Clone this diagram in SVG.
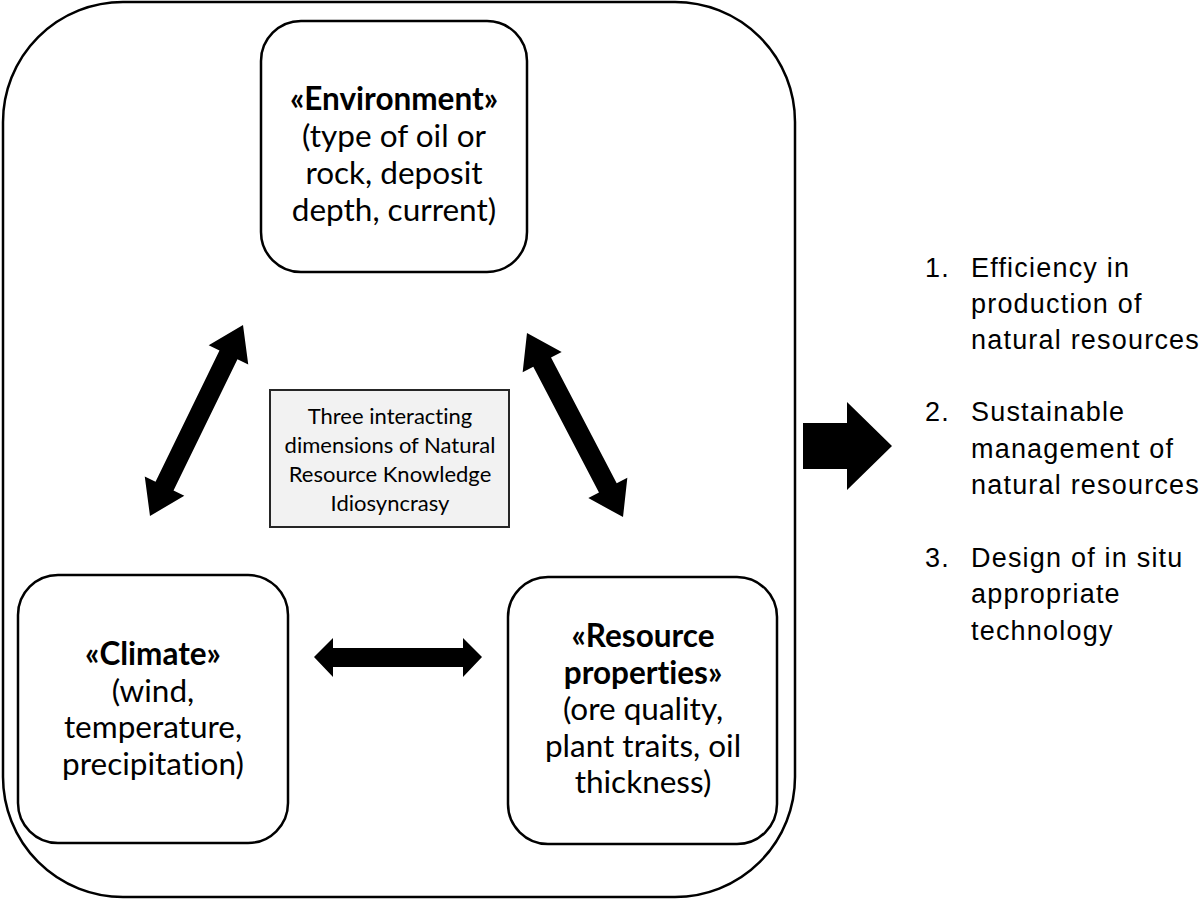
<svg xmlns="http://www.w3.org/2000/svg" width="1204" height="899" viewBox="0 0 1204 899">
<defs>
<style>
.frame{fill:#fff;stroke:#000;stroke-width:2.5}
.node{fill:#fff;stroke:#000;stroke-width:2.5}
.center{fill:#f2f2f2;stroke:#262626;stroke-width:2}
.nt{font-family:Lato,"Open Sans",sans-serif;font-size:31.5px;fill:#000;text-anchor:middle;font-variant-ligatures:none}
.nb{font-weight:bold}
.ct{font-family:Lato,"Open Sans",sans-serif;font-size:22px;fill:#000;text-anchor:middle;font-variant-ligatures:none}
.lt{font-family:"Liberation Sans",Arial,sans-serif;font-size:27px;fill:#000;letter-spacing:1.2px}
.arr{fill:#000}
</style>
</defs>
<rect class="frame" x="3" y="2" width="792" height="895" rx="120" ry="120"/>

<g id="node-environment">
<rect class="node" x="261" y="21" width="266" height="251" rx="40" ry="40"/>
<text class="nt nb" x="394" y="110">«Environment»</text>
<text class="nt" x="394" y="147">(type of oil or</text>
<text class="nt" x="394" y="184">rock, deposit</text>
<text class="nt" x="394" y="221">depth, current)</text>
</g>

<g id="node-climate">
<rect class="node" x="18" y="575" width="270" height="268" rx="40" ry="40"/>
<text class="nt nb" x="153" y="665">«Climate»</text>
<text class="nt" x="153" y="702">(wind,</text>
<text class="nt" x="153" y="738">temperature,</text>
<text class="nt" x="153" y="775">precipitation)</text>
</g>

<g id="node-resource">
<rect class="node" x="508" y="577" width="269" height="267" rx="40" ry="40"/>
<text class="nt nb" x="643" y="647">«Resource</text>
<text class="nt nb" x="643" y="684">properties»</text>
<text class="nt" x="643" y="720">(ore quality,</text>
<text class="nt" x="643" y="757">plant traits, oil</text>
<text class="nt" x="643" y="793">thickness)</text>
</g>

<g id="node-center">
<rect class="center" x="270" y="390" width="239" height="137"/>
<text class="ct" x="390" y="424">Three interacting</text>
<text class="ct" x="390" y="453">dimensions of Natural</text>
<text class="ct" x="390" y="482">Resource Knowledge</text>
<text class="ct" x="390" y="511">Idiosyncrasy</text>
</g>

<g id="node-outcomes">
<text class="lt" x="925" y="277">1.</text>
<text class="lt" x="971" y="277">Efficiency in</text>
<text class="lt" x="971" y="313">production of</text>
<text class="lt" x="971" y="349">natural resources</text>
<text class="lt" x="925" y="421">2.</text>
<text class="lt" x="971" y="421">Sustainable</text>
<text class="lt" x="971" y="458">management of</text>
<text class="lt" x="971" y="494">natural resources</text>
<text class="lt" x="925" y="567">3.</text>
<text class="lt" x="971" y="567">Design of in situ</text>
<text class="lt" x="971" y="603">appropriate</text>
<text class="lt" x="971" y="640">technology</text>
</g>

<g id="connectors">
<polygon class="arr" transform="translate(196.5,420.5) rotate(115.97)" points="-106.2,0 -73,-22 -73,-10 73,-10 73,-22 106.2,0 73,22 73,10 -73,10 -73,22"/>
<polygon class="arr" transform="translate(575,425) rotate(62.45)" points="-103.8,0 -71,-22 -71,-10 71,-10 71,-22 103.8,0 71,22 71,10 -71,10 -71,22"/>
<polygon class="arr" points="314,657 333,638 333,648 463,648 463,638 482,657 463,677 463,667 333,667 333,677"/>
<polygon class="arr" points="803,423 847,423 847,402 892,446 847,490 847,469 803,469"/>
</g>
</svg>
